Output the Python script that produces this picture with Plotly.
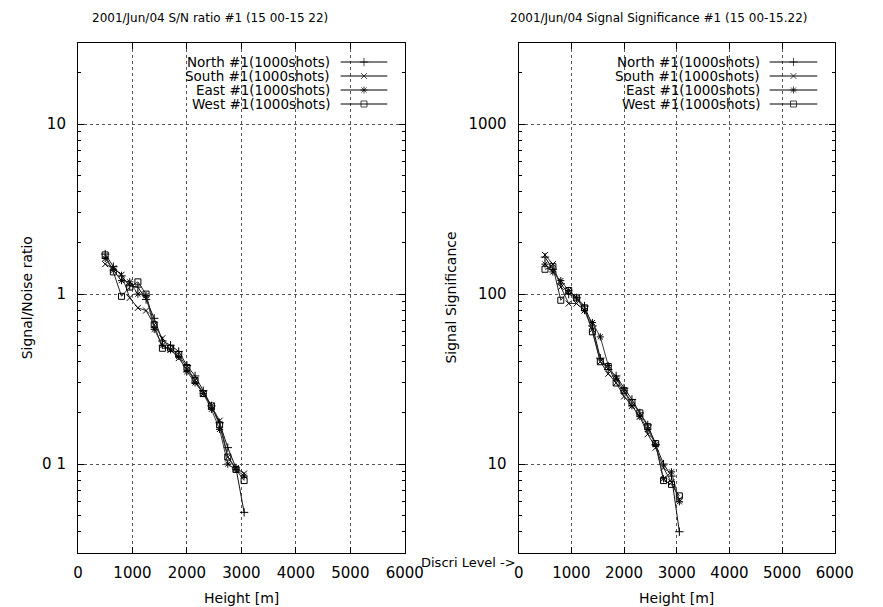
import plotly.graph_objects as go

# ---------------- data ----------------
heights = [500, 650, 800, 950, 1100, 1250, 1400, 1550, 1700, 1850,
           2000, 2150, 2300, 2450, 2600, 2750, 2900, 3050]

sn_north = [1.72, 1.45, 1.28, 1.12, 1.10, 0.93, 0.72, 0.53, 0.50, 0.46,
            0.38, 0.33, 0.27, 0.22, 0.175, 0.125, 0.095, 0.052]
sn_south = [1.50, 1.42, 1.30, 0.95, 0.83, 0.80, 0.66, 0.55, 0.47, 0.42,
            0.36, 0.31, 0.26, 0.22, 0.18, 0.11, 0.095, 0.088]
sn_east = [1.62, 1.38, 1.20, 1.18, 1.00, 0.98, 0.62, 0.50, 0.47, 0.43,
           0.35, 0.30, 0.26, 0.21, 0.16, 0.10, 0.093, 0.085]
sn_west = [1.70, 1.35, 0.97, 1.10, 1.18, 1.00, 0.66, 0.48, 0.48, 0.44,
           0.37, 0.31, 0.26, 0.22, 0.17, 0.11, 0.093, 0.080]

sig_north = [165, 140, 115, 100, 95, 85, 65, 42, 36, 33,
             28, 24, 20, 17, 13, 10, 8.5, 4.0]
sig_south = [170, 150, 110, 88, 88, 80, 62, 40, 34, 30,
             25, 22, 19, 15, 12.5, 9.5, 7.8, 6.2]
sig_east = [150, 135, 120, 105, 95, 80, 68, 56, 38, 32,
            27, 22, 19, 16, 13, 8.2, 9.0, 6.0]
sig_west = [140, 145, 92, 105, 95, 83, 60, 40, 37.5, 30,
            27, 23, 20, 16.6, 13.2, 8.0, 7.6, 6.5]

series_names = ["North #1(1000shots)", "South #1(1000shots)",
                "East #1(1000shots)", "West #1(1000shots)"]
symbols = ["cross-thin-open", "x-thin-open", "asterisk-open", "square-open"]

x_ticks = [0, 1000, 2000, 3000, 4000, 5000, 6000]
sn_ticks = [0.1, 1, 10]
sn_ticktext = ["0 1", "1", "10"]
sig_ticks = [10, 100, 1000]
sig_ticktext = ["10", "100", "1000"]

title_left = "2001/Jun/04 S/N ratio #1 (15 00-15 22)"
title_right = "2001/Jun/04 Signal Significance #1 (15 00-15.22)"

# ---------------- layout helpers ----------------
W, H = 883, 607
FONT = "DejaVu Sans"


def fx(p):
    return p / W


def fy(p):
    return 1 - p / H


def minor_vals(lo_exp, hi_exp):
    vals = []
    for e in range(lo_exp, hi_exp + 1):
        for m in range(2, 10):
            vals.append(m * 10 ** e)
    return vals


fig = go.Figure()

sn_sets = [sn_north, sn_south, sn_east, sn_west]
sig_sets = [sig_north, sig_south, sig_east, sig_west]
line_cols = ["#111111", "#2a2a2a", "#3a3a3a", "#222222"]


def marker(i):
    return dict(symbol=symbols[i], size=6, color="black",
                line=dict(width=1, color="black"))


for i in range(4):
    fig.add_trace(go.Scatter(
        x=heights, y=sn_sets[i], mode="lines+markers", name=series_names[i],
        line=dict(color=line_cols[i], width=1), marker=marker(i),
        xaxis="x", yaxis="y", showlegend=False))
    fig.add_trace(go.Scatter(
        x=heights, y=sig_sets[i], mode="lines+markers", name=series_names[i],
        line=dict(color=line_cols[i], width=1), marker=marker(i),
        xaxis="x2", yaxis="y2", showlegend=False))

# legend samples (gnuplot style: text, then line with a marker) drawn on an
# invisible pixel-scaled overlay axis
legend_rows = [62, 76, 90, 104]
legend_boxes = [(336, 345, 393), (778, 786, 835)]
for (text_end, ls, le) in legend_boxes:
    for i, row in enumerate(legend_rows):
        fig.add_trace(go.Scatter(
            x=[ls, (ls + le) / 2, le], y=[row, row, row],
            mode="lines+markers", line=dict(color="black", width=1),
            marker=dict(symbol=symbols[i], size=[0, 6, 0], color="black",
                        line=dict(width=1, color="black")),
            xaxis="x3", yaxis="y3", showlegend=False, hoverinfo="skip"))

ydom = [fy(553), fy(43)]

common_x = dict(range=[0, 6000], tickvals=x_ticks, ticks="inside", ticklen=6,
                tickcolor="black", mirror="allticks", showline=True,
                linecolor="black", linewidth=1, showgrid=True,
                gridcolor="#555555", griddash="dot", gridwidth=1,
                zeroline=False, tickfont=dict(family=FONT, size=15, color="black"),
                ticklabelstandoff=6)
common_y = dict(type="log", ticks="inside", ticklen=6, tickcolor="black",
                mirror="allticks", showline=True, linecolor="black",
                linewidth=1, showgrid=True, gridcolor="#555555",
                griddash="dot", gridwidth=1, zeroline=False,
                tickfont=dict(family=FONT, size=15, color="black"),
                ticklabelstandoff=8, domain=ydom)

fig.update_layout(
    width=W, height=H, autosize=False,
    margin=dict(l=0, r=0, t=0, b=0),
    paper_bgcolor="white", plot_bgcolor="rgba(0,0,0,0)",
    showlegend=False,
    xaxis=dict(domain=[fx(75), fx(411)], anchor="y", **common_x),
    xaxis2=dict(domain=[fx(528), fx(853)], anchor="y2", **common_x),
    yaxis=dict(anchor="x", range=[-1.523, 1.477], tickvals=sn_ticks,
               ticktext=sn_ticktext,
               minor=dict(tickvals=minor_vals(-2, 1), ticks="inside",
                          ticklen=3, tickcolor="black", showgrid=False),
               **common_y),
    yaxis2=dict(anchor="x2", range=[0.477, 3.477], tickvals=sig_ticks,
                ticktext=sig_ticktext,
                minor=dict(tickvals=minor_vals(0, 3), ticks="inside",
                           ticklen=3, tickcolor="black", showgrid=False),
                **common_y),
    xaxis3=dict(domain=[0, 1], range=[0, W], visible=False, anchor="y3",
                fixedrange=True),
    yaxis3=dict(domain=[0, 1], range=[H, 0], visible=False, anchor="x3",
                fixedrange=True),
)


def label(text, x, y, size, xanchor="center", angle=0):
    return dict(text=text, x=fx(x), y=fy(y), xref="paper", yref="paper",
                showarrow=False, xanchor=xanchor, yanchor="middle",
                textangle=angle,
                font=dict(family=FONT, size=size, color="black"))


annotations = [
    label(title_left, 211, 18, 12),
    label(title_right, 672, 18, 12),
    label("Height [m]", 243, 598, 14),
    label("Height [m]", 690, 598, 14),
    label("Signal/Noise ratio", 23, 298, 14, angle=-90),
    label("Signal Significance", 458, 298, 14, angle=-90),
    label("Discri Level ->", 527, 562, 13, xanchor="right"),
]
for (text_end, ls, le) in legend_boxes:
    for i, row in enumerate(legend_rows):
        annotations.append(label(series_names[i], text_end, row, 13.5,
                                 xanchor="right"))

fig.update_layout(annotations=annotations)

fig.write_html("out.html",
               config={"displayModeBar": False, "staticPlot": True},
               post_script="document.body.style.margin='0';"
                           "document.body.style.padding='0';")
